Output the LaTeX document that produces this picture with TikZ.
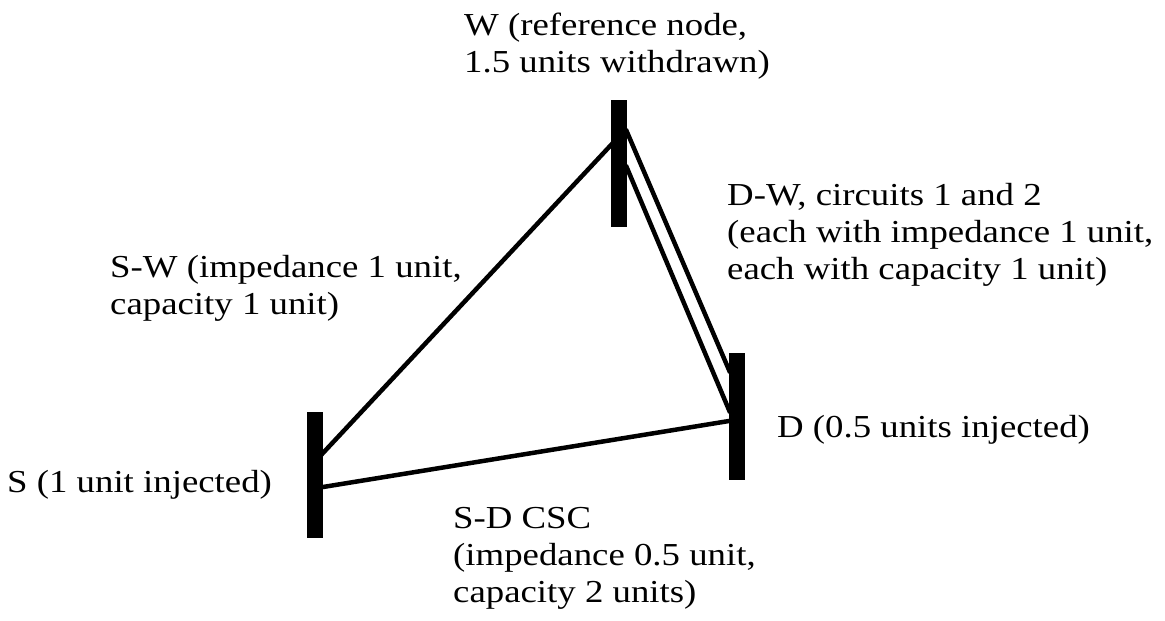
\documentclass[tikz,border=0pt]{standalone}
\usepackage{fontspec}
\setmainfont{Liberation Serif}[FakeStretch=1.15]
\pgfdeclarelayer{bg}
\pgfsetlayers{bg,main}
\begin{document}
\begin{tikzpicture}[x=1pt,y=-1pt,
  bus/.style={draw=none,fill=black,minimum width=16pt,inner sep=0pt,outer sep=0pt},
  line/.style={line width=4.5pt,shorten <=-3pt,shorten >=-3pt},
  lbl/.style={anchor=base west,inner sep=0pt,align=left,font=\fontsize{32}{37}\selectfont}]
\useasboundingbox (0,0) rectangle (1165,621);
% buses
\node[bus,minimum height=127pt] (W) at (619,163.5) {};
\node[bus,minimum height=127pt] (D) at (737,416.5) {};
\node[bus,minimum height=126pt] (S) at (315,475) {};
% lines
\begin{pgfonlayer}{bg}
\draw[line] ([yshift=22pt]S.east) -- ([yshift=18.5pt]W.west);
\draw[line] ([yshift=-12pt]S.east) -- ([yshift=-4.5pt]D.west);
\draw[line] ([yshift=31.5pt]W.east) -- ([yshift=46.5pt]D.west);
\draw[line] ([yshift=-4.5pt]W.east) -- ([yshift=6.5pt]D.west);
\end{pgfonlayer}
% labels (base anchor = baseline of the last line)
\node[lbl] (Wl) at (464,72) {W (reference node,\\1.5 units withdrawn)};
\node[lbl] (DWl) at (727,279) {D-W, circuits 1 and 2\\(each with impedance 1 unit,\\each with capacity 1 unit)};
\node[lbl] (SWl) at (110,314) {S-W (impedance 1 unit,\\capacity 1 unit)};
\node[lbl] (Sl) at (7,492) {S (1 unit injected)};
\node[lbl] (Dl) at (777,437) {D (0.5 units injected)};
\node[lbl] (SDl) at (453,602) {S-D CSC\\(impedance 0.5 unit,\\capacity 2 units)};
\end{tikzpicture}
\end{document}
